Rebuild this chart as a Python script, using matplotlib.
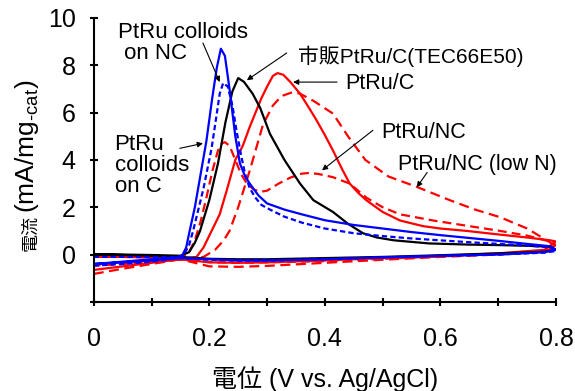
import numpy as np
import matplotlib
matplotlib.use("Agg")
import matplotlib.pyplot as plt
from matplotlib.ticker import MultipleLocator, FixedLocator, FuncFormatter

plt.rcParams['font.family'] = ['Liberation Sans', 'Noto Sans CJK JP']
plt.rcParams['mathtext.fontset'] = 'custom'
plt.rcParams['mathtext.rm'] = 'Liberation Sans'

# peak (anodic) branches, 0 -> 0.8 V
nc_x = [0, 0.05, 0.10, 0.14, 0.152, 0.16, 0.166, 0.175, 0.185, 0.195, 0.205, 0.213, 0.22,
        0.227, 0.235, 0.245, 0.253, 0.262, 0.27, 0.285, 0.30, 0.33, 0.36, 0.40, 0.45, 0.50,
        0.55, 0.60, 0.65, 0.70, 0.75, 0.79, 0.80]
nc_y = [-0.4, -0.3, -0.2, -0.12, -0.1, 0.3, 1.0, 2.0, 3.4, 4.8, 6.6, 7.9, 8.7,
        8.4, 7.0, 5.0, 3.85, 3.3, 3.0, 2.5, 2.16, 1.9, 1.7, 1.45, 1.25, 1.1,
        0.95, 0.82, 0.7, 0.58, 0.45, 0.35, 0.2]

c_x = [0, 0.05, 0.10, 0.14, 0.155, 0.165, 0.172, 0.18, 0.19, 0.204, 0.212, 0.218, 0.224,
       0.232, 0.24, 0.247, 0.255, 0.262, 0.27, 0.28, 0.29, 0.305, 0.33, 0.36, 0.40, 0.45,
       0.50, 0.55, 0.60, 0.65, 0.70, 0.75, 0.79, 0.80]
c_y = [-0.1, -0.1, -0.1, -0.12, -0.05, 0.4, 1.0, 1.8, 2.8, 4.5, 5.8, 6.8, 7.25,
       7.1, 6.3, 5.25, 4.2, 3.4, 2.8, 2.4, 2.1, 1.9, 1.6, 1.35, 1.1, 0.9,
       0.78, 0.68, 0.6, 0.52, 0.45, 0.38, 0.3, 0.15]

tec_x = [0, 0.05, 0.10, 0.15, 0.165, 0.175, 0.184, 0.2, 0.215, 0.228, 0.24, 0.25, 0.26,
         0.275, 0.288, 0.305, 0.33, 0.357, 0.38, 0.414, 0.44, 0.466, 0.49, 0.52, 0.58,
         0.65, 0.70, 0.75, 0.79, 0.80]
tec_y = [0.02, 0.0, -0.02, -0.05, 0.1, 0.5, 1.0, 2.3, 3.85, 5.6, 6.9, 7.46, 7.3,
         6.8, 6.2, 5.1, 4.0, 3.0, 2.3, 1.8, 1.3, 0.9, 0.72, 0.6, 0.47,
         0.42, 0.4, 0.37, 0.33, 0.2]

ptc_x = [0, 0.05, 0.10, 0.15, 0.178, 0.19, 0.2, 0.218, 0.23, 0.245, 0.258, 0.27, 0.28,
         0.29, 0.3, 0.31, 0.318, 0.328, 0.34, 0.357, 0.37, 0.385, 0.40, 0.414, 0.43,
         0.443, 0.458, 0.472, 0.5, 0.53, 0.57, 0.6, 0.645, 0.7, 0.75, 0.79, 0.80]
ptc_y = [-0.65, -0.5, -0.35, -0.2, -0.1, 0.3, 0.8, 1.7, 2.7, 4.0, 4.6, 5.4, 6.0,
         6.6, 7.1, 7.55, 7.67, 7.6, 7.3, 6.8, 6.3, 5.7, 5.05, 4.4, 3.6,
         3.0, 2.6, 2.29, 1.8, 1.44, 1.2, 1.1, 1.0, 0.85, 0.72, 0.6, 0.55]

pnc_x = [0, 0.05, 0.10, 0.15, 0.165, 0.175, 0.185, 0.195, 0.205, 0.215, 0.222, 0.227,
         0.235, 0.245, 0.255, 0.265, 0.277, 0.288, 0.30, 0.32, 0.34, 0.36, 0.374, 0.39,
         0.414, 0.443, 0.472, 0.5, 0.53, 0.587, 0.65, 0.703, 0.75, 0.79, 0.80]
pnc_y = [-0.08, -0.1, -0.12, -0.15, 0.1, 0.6, 1.4, 2.4, 3.5, 4.4, 4.7, 4.75,
         4.6, 4.0, 3.4, 3.0, 2.75, 2.65, 2.7, 3.0, 3.25, 3.42, 3.45, 3.4,
         3.27, 3.0, 2.4, 2.0, 1.7, 1.44, 1.2, 1.0, 0.8, 0.55, 0.4]

low_x = [0, 0.05, 0.10, 0.15, 0.19, 0.21, 0.225, 0.235, 0.25, 0.27, 0.293, 0.31, 0.325,
         0.345, 0.357, 0.38, 0.414, 0.44, 0.47, 0.51, 0.559, 0.617, 0.66, 0.703, 0.75,
         0.784, 0.80]
low_y = [-0.82, -0.6, -0.4, -0.2, -0.1, 0.2, 0.6, 1.0, 2.0, 3.55, 5.5, 6.3, 6.7,
         6.87, 6.8, 6.5, 5.96, 5.0, 4.0, 3.3, 2.86, 2.29, 1.9, 1.58, 1.1,
         0.6, 0.35]

# return (lower) branches, 0.8 -> 0 V
back_x = [0.80, 0.78, 0.70, 0.60, 0.50, 0.40, 0.30, 0.25, 0.20, 0.15, 0.10, 0.05, 0.0]
nc_back = [0.2, 0.1, 0.0, -0.05, -0.12, -0.2, -0.25, -0.25, -0.2, -0.15, -0.25, -0.33, -0.4]
c_back = [0.15, 0.08, 0.0, -0.06, -0.12, -0.2, -0.26, -0.26, -0.22, -0.15, -0.3, -0.4, -0.47]
tec_back = [0.2, 0.12, 0.05, -0.03, -0.1, -0.15, -0.2, -0.2, -0.18, -0.1, -0.05, -0.02, 0.0]
ptc_back = [0.55, 0.2, 0.05, -0.05, -0.15, -0.25, -0.33, -0.35, -0.33, -0.2, -0.12, -0.1, -0.1]
pnc_back = [0.4, 0.15, 0.02, -0.08, -0.18, -0.28, -0.33, -0.35, -0.32, -0.2, -0.3, -0.4, -0.47]
low_back = [0.35, 0.12, 0.0, -0.1, -0.22, -0.35, -0.48, -0.52, -0.5, -0.2, -0.1, -0.08, -0.08]

# multi-line labels (text, top position, size)
block_labels = [('PtRu colloids\n on NC', 0.042, 9.85, 16),
                ('PtRu\ncolloids\non C', 0.036, 5.08, 16)]
# one-line labels (text, baseline position, size)
labels = [('市販PtRu/C(TEC66E50)', 0.353, 8.09, 15), ('PtRu/C', 0.435, 6.99, 15.5),
          ('PtRu/NC', 0.497, 4.92, 15.5), ('PtRu/NC (low N)', 0.526, 3.56, 15.5)]
arrows = [((0.189, 8.94), (0.218, 7.29)), ((0.149, 4.49), (0.189, 4.70)),
          ((0.334, 8.52), (0.265, 7.37)), ((0.421, 7.29), (0.345, 7.29)),
          ((0.483, 5.25), (0.395, 3.56)), ((0.577, 3.47), (0.559, 2.84))]

fig = plt.figure(figsize=(5.75, 3.91), dpi=100)
ax = fig.add_axes([0.163, 0.228, 0.804, 0.726])

lw = 1.6
def loop(x, y, yb, **kw):
    ax.plot(list(x) + back_x, list(y) + yb, lw=lw, **kw)

loop(ptc_x, ptc_y, ptc_back, color='#ff0000')
loop(low_x, low_y, low_back, color='#ff0000', ls=(0, (4.5, 2.5)))
loop(pnc_x, pnc_y, pnc_back, color='#ff0000', ls=(0, (4, 2.3)))
loop(tec_x, tec_y, tec_back, color='black')
loop(c_x, c_y, c_back, color='#0000ff', ls=(0, (2.4, 1.4)))
loop(nc_x, nc_y, nc_back, color='#0000ff')

ax.set_xlim(0, 0.8)
ax.set_ylim(-2, 10)
ax.xaxis.set_major_locator(MultipleLocator(0.2))
ax.xaxis.set_minor_locator(MultipleLocator(0.1))
ax.yaxis.set_major_locator(FixedLocator([-2, 0, 2, 4, 6, 8, 10]))
ax.xaxis.set_major_formatter(FuncFormatter(lambda v, p: '0' if abs(v) < 1e-9 else '%.1f' % v))
ax.yaxis.set_major_formatter(FuncFormatter(lambda v, p: '' if v < 0 else '%d' % v))
for s in ['top', 'right']:
    ax.spines[s].set_visible(False)
for s in ['left', 'bottom']:
    ax.spines[s].set_linewidth(1.5)
ax.tick_params(which='both', direction='inout', width=1.5, length=6, labelsize=18)
ax.tick_params(axis='x', pad=15)
ax.tick_params(axis='y', pad=10)

ax.set_xlabel('電位 (V vs. Ag/AgCl)', fontsize=18, labelpad=11)
# y label in two pieces: the CJK part is drawn smaller in the original
fig.text(0.054, 1 - 251 / 391, '電流', fontsize=13, rotation=90, ha='center', va='bottom')
fig.text(0.047, 1 - 213 / 391, '(mA/mg$_{\\mathrm{\u2010cat}}$)', fontsize=19,
         rotation=90, ha='center', va='bottom')

for t, x, y, f in block_labels:
    ax.text(x, y, t, fontsize=f, ha='left', va='top', linespacing=1.0)
for t, x, y, f in labels:
    ax.text(x, y, t, fontsize=f, ha='left', va='baseline')
for (x0, y0), (x1, y1) in arrows:
    ax.annotate('', xy=(x1, y1), xytext=(x0, y0),
                arrowprops=dict(arrowstyle='-|>', color='black', lw=0.8,
                                mutation_scale=8, shrinkA=0, shrinkB=0))

fig.savefig('out.png', dpi=100)
